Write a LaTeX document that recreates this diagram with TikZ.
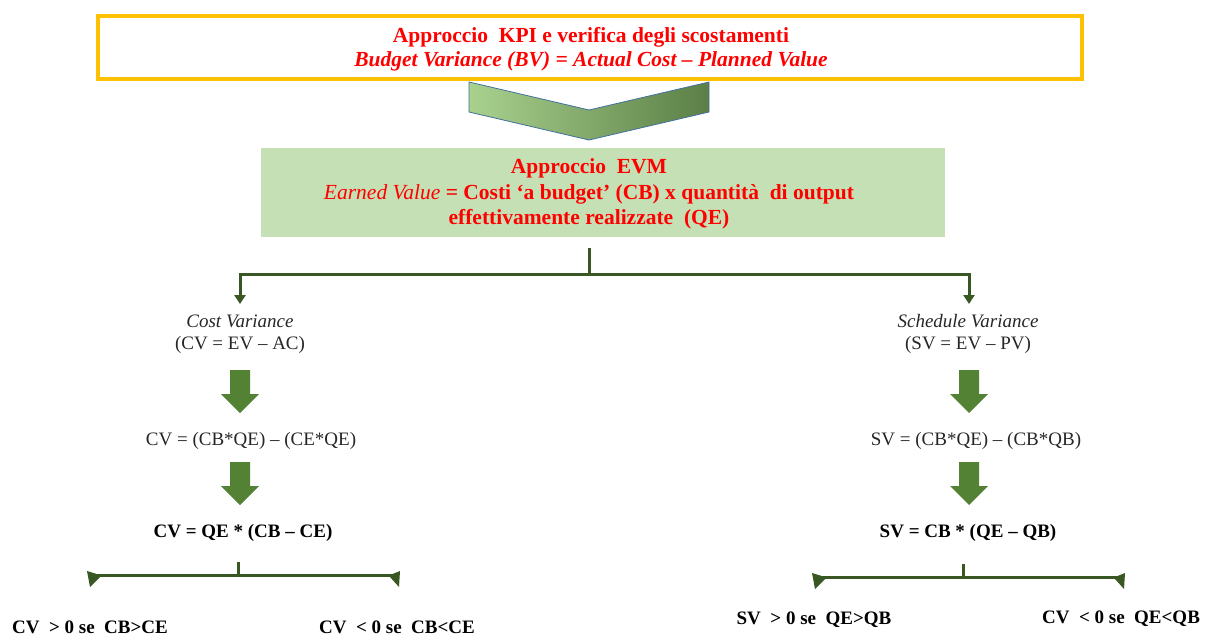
\documentclass[tikz,border=0pt]{standalone}
\usepackage{fontspec}
\setmainfont{Liberation Serif}
\usetikzlibrary{arrows.meta}
\definecolor{gold}{HTML}{FFC000}
\definecolor{lgreen}{HTML}{C5E0B4}
\definecolor{dgreen}{HTML}{385723}
\definecolor{mgreen}{HTML}{548235}
\definecolor{chevL}{HTML}{A9D18E}
\definecolor{chevR}{HTML}{5B7F46}
\definecolor{chevB}{HTML}{41719C}
\definecolor{txt}{HTML}{262626}
\tikzset{
  conn/.style={draw=dgreen, line width=3pt},
  tip/.style={-{Triangle[width=11pt,length=9pt]}},
  plain/.style={text=txt, font=\fontsize{19}{22}\selectfont, inner sep=1pt, align=center},
  boldtxt/.style={text=black, font=\fontsize{19}{22}\selectfont\bfseries, inner sep=1pt},
  redtxt/.style={text=red, align=center, inner sep=1pt},
  barrow/.pic={\fill[mgreen] (-10,0) -- (10,0) -- (10,24) -- (19,24) -- (0,43) -- (-19,24) -- (-10,24) -- cycle;},
  bracket/.pic={
    \draw[dgreen, line width=3pt] (0,-13) -- (0,0);
    \draw[dgreen, line width=3pt] (-146,0) -- (157,0);
    \fill[dgreen] (-151,-4) -- (-138,0) -- (-138,2) -- (-148,12) -- cycle;
    \fill[dgreen] (162,-4) -- (152,0) -- (152,2) -- (161,12) -- cycle;}
}
\begin{document}
\begin{tikzpicture}[x=1pt,y=-1pt]
\useasboundingbox (0,0) rectangle (1206,635);
% top box
\node[draw=gold, line width=3.5pt, minimum width=984pt, minimum height=63pt] (kpi) at (590,47.5) {};
\node[redtxt, font=\fontsize{21.5}{23.5}\selectfont\bfseries] (kpit) at (591,49)
  {Approccio\ \ KPI e verifica degli scostamenti\\ \itshape Budget Variance (BV) = Actual Cost -- Planned Value};
% chevron
\shadedraw[left color=chevL, right color=chevR, draw=chevB, line width=0.8pt]
  (469,82) -- (589,110) -- (709,82) -- (709,112) -- (589,140) -- (469,112) -- cycle;
% EVM box
\node[fill=lgreen, minimum width=684pt, minimum height=89pt] (evm) at (603,192.5) {};
\node[redtxt, font=\fontsize{21.5}{25.5}\selectfont\bfseries] (evmt) at (589,194)
  {Approccio\ \ EVM\\ \textnormal{\itshape Earned Value} = Costi ‘a budget’ (CB) x quantità\ \ di output\\ effettivamente realizzate\ \ (QE)};
% branching connector
\coordinate (t) at (589,248);
\coordinate (b) at (589,274);
\coordinate (cvtip) at (240,304);
\coordinate (svtip) at (969,304);
\draw[conn] (t) -- (b);
\draw[conn, tip] (b) -| (cvtip);
\draw[conn, tip] (b) -| (svtip);
% left column
\node[plain] (cvt) at (240,334) {\textit{Cost Variance}\\(CV = EV -- AC)};
\pic at (240,370) {barrow};
\node[plain] (cv1) at (251,441) {CV = (CB*QE) -- (CE*QE)};
\pic at (240,462) {barrow};
\node[boldtxt] (cv2) at (243,533) {CV = QE * (CB -- CE)};
\pic at (238,575) {bracket};
\node[boldtxt] (cv3) at (90,627) {CV\ \ > 0 se\ \ CB>CE};
\node[boldtxt] (cv4) at (397,627) {CV\ \ < 0 se\ \ CB<CE};
% right column
\node[plain] (svt) at (968,334) {\textit{Schedule Variance}\\(SV = EV -- PV)};
\pic at (969,370) {barrow};
\node[plain] (sv1) at (976,441) {SV = (CB*QE) -- (CB*QB)};
\pic at (969,462) {barrow};
\node[boldtxt] (sv2) at (968,533) {SV = CB * (QE -- QB)};
\pic at (963,577) {bracket};
\node[boldtxt] (sv3) at (814,620) {SV\ \ > 0 se\ \ QE>QB};
\node[boldtxt] (sv4) at (1121,619) {CV\ \ < 0 se\ \ QE<QB};
\end{tikzpicture}
\end{document}
